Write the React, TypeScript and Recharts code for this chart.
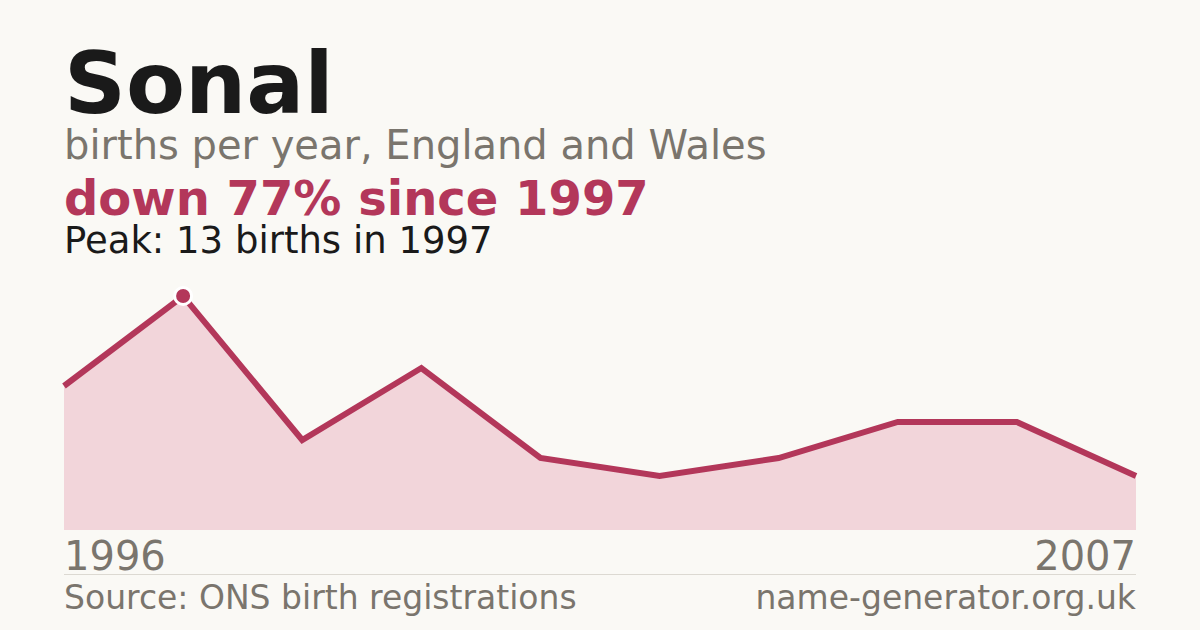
import React from 'react';
import { AreaChart, Area, XAxis, YAxis } from 'recharts';

const years = ['1996', '1997', '1998', '1999', '2000', '2002', '2003', '2004', '2005', '2007'];
const births = [8, 13, 5, 9, 4, 3, 4, 6, 6, 3];
const axisLabels = ['1996', '2007'];

const title = 'Sonal';
const subtitle = 'births per year, England and Wales';
const headline = 'down 77% since 1997';
const peakNote = 'Peak: 13 births in 1997';
const source = 'Source: ONS birth registrations';
const site = 'name-generator.org.uk';

const RED = '#b3375a';
const GREY = '#7a756d';
const FONT = '"DejaVu Sans", sans-serif';

const chartData = years.map((year, i) => ({ year, births: births[i] }));
const peakIdx = births.indexOf(Math.max(...births));

const YearTick = (props: any) => {
  const { x, y, index, payload } = props;
  const last = chartData.length - 1;
  if (index !== 0 && index !== last) return <g />;
  const label = index === 0 ? axisLabels[0] : axisLabels[1];
  return (
    <text
      x={x}
      y={y + 40}
      textAnchor={index === 0 ? 'start' : 'end'}
      fontSize={40}
      fill={GREY}
      fontFamily={FONT}
      data-year={payload.value}
    >
      {label}
    </text>
  );
};

const PeakDot = (props: any) => {
  const { cx, cy, index } = props;
  if (index !== peakIdx) return <g key={`d-${index}`} />;
  return <circle key={`d-${index}`} cx={cx} cy={cy} r={8.5} fill={RED} stroke="#ffffff" strokeWidth={3} />;
};

export default function App() {
  return (
    <div
      style={{
        position: 'absolute',
        left: 0,
        top: 0,
        width: 1200,
        height: 630,
        background: '#faf9f5',
        fontFamily: FONT,
        overflow: 'hidden',
      }}
    >
      <svg width={1200} height={630} style={{ position: 'absolute', left: 0, top: 0 }}>
        <text x={64} y={113} fontSize={86} fontWeight="bold" fill="#1a1a1a" fontFamily={FONT}>{title}</text>
        <text x={64} y={159} fontSize={40} fill={GREY} fontFamily={FONT}>{subtitle}</text>
        <text x={64} y={215} fontSize={48} fontWeight="bold" fill={RED} fontFamily={FONT}>{headline}</text>
        <text x={64} y={253} fontSize={37} fill="#1a1a1a" fontFamily={FONT}>{peakNote}</text>
        <line x1={64} x2={1136} y1={574.5} y2={574.5} stroke="#dcd9d2" strokeWidth={1} />
        <text x={64} y={609} fontSize={33} fill={GREY} fontFamily={FONT}>{source}</text>
        <text x={1136} y={609} fontSize={33} fill={GREY} fontFamily={FONT} textAnchor="end">{site}</text>
      </svg>
      <div style={{ position: 'absolute', left: 0, top: 0 }}>
        <AreaChart width={1200} height={630} data={chartData} margin={{ top: 296, right: 64, bottom: 70, left: 64 }}>
          <XAxis
            dataKey="year"
            axisLine={false}
            tickLine={false}
            tickSize={0}
            tickMargin={0}
            interval={0}
            height={30}
            tick={YearTick}
          />
          <YAxis hide domain={[0, 13]} />
          <Area
            type="linear"
            dataKey="births"
            stroke={RED}
            strokeWidth={6}
            fill="#f2d5da"
            fillOpacity={1}
            dot={PeakDot}
            activeDot={false}
            isAnimationActive={false}
          />
        </AreaChart>
      </div>
    </div>
  );
}
